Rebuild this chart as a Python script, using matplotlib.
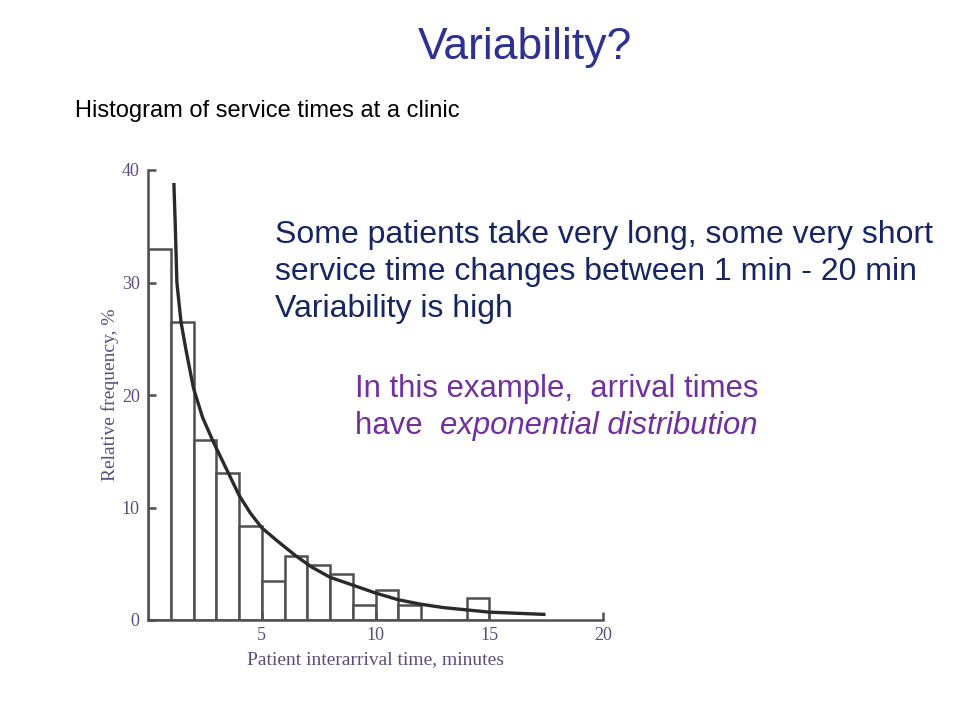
#Histogram of service times slide
import numpy as np
import matplotlib.pyplot as plt

#Data
bin_left = [0, 1, 2, 3, 4, 5, 6, 7, 8, 9, 10, 11, 12, 13, 14]
rel_freq = [33, 26.5, 16, 13.1, 8.4, 3.5, 5.7, 4.9, 4.1, 1.3, 2.7, 1.3, 0, 0, 2.0]
curve_x = [1.14, 1.2, 1.27, 1.45, 1.67, 2.0, 2.4, 2.9, 3.5, 4.0, 4.5, 5.0, 5.7,
           6.5, 7.2, 8.0, 9.0, 10.0, 11.0, 12.0, 13.0, 14.0, 15.0, 16.2, 17.4]
curve_y = [38.7, 35.0, 30.0, 26.5, 24.0, 20.6, 18.0, 15.7, 13.2, 11.1, 9.5, 8.2, 7.0,
           5.7, 4.7, 3.8, 3.1, 2.4, 1.8, 1.4, 1.1, 0.9, 0.7, 0.6, 0.5]
x_ticks = [5, 10, 15, 20]
y_ticks = [0, 10, 20, 30, 40]

title = 'Variability?'
subtitle = 'Histogram of service times at a clinic'
notes = ['Some patients take very long, some very short',
         'service time changes between 1 min - 20 min',
         'Variability is high']

#Colors
blue = '#2e3192'
navy = '#172663'
purple = '#7030a0'
ink = '#505050'
label_col = '#5a4d7a'

plt.rcParams['font.family'] = ['Liberation Sans', 'DejaVu Sans']

fig = plt.figure(figsize=(9.6, 7.2), dpi=100)
fig.patch.set_facecolor('white')

#Histogram axes (the scanned figure)
ax = fig.add_axes([148/960, 100/720, 455/960, 450/720])
ax.bar(bin_left, rel_freq, width=1, align='edge', facecolor='white',
       edgecolor=ink, linewidth=1.8)
ax.plot(curve_x, curve_y, '-', color='#2a2a2a', linewidth=2.4)

ax.set_xlim(0, 20)
ax.set_ylim(0, 40)
ax.spines['top'].set_visible(False)
ax.spines['right'].set_visible(False)
ax.spines['left'].set_color(ink)
ax.spines['bottom'].set_color(ink)
ax.spines['left'].set_linewidth(1.8)
ax.spines['bottom'].set_linewidth(1.8)

serif = ['Liberation Serif', 'DejaVu Serif']
ax.set_xticks(x_ticks)
ax.set_xticklabels([str(v) for v in x_ticks], family=serif, fontsize=13, color=label_col)
ax.set_yticks(y_ticks)
ax.set_yticklabels([str(v) for v in y_ticks], family=serif, fontsize=13, color=label_col)
ax.tick_params(axis='both', direction='in', length=6, width=1.8, color=ink)
ax.tick_params(axis='y', pad=6)
ax.tick_params(axis='x', pad=5)
ax.set_xlabel('Patient interarrival time, minutes', family=serif, fontsize=14,
              color=label_col, labelpad=5)
ax.set_ylabel('Relative frequency, %', family=serif, fontsize=14,
              color=label_col, labelpad=2)

#Slide texts
fig.text(525/960, 1 - 48/720, title, ha='center', va='center', fontsize=32, color=blue)
fig.text(75/960, 1 - 117/720, subtitle, ha='left', va='baseline', fontsize=17, color='black')

for i, line in enumerate(notes):
    fig.text(275/960, 1 - (243 + 37*i)/720, line, ha='left', va='baseline',
             fontsize=23, color=navy)

fig.text(355/960, 1 - 397/720, 'In this example,  arrival times', ha='left',
         va='baseline', fontsize=22.4, color=purple)
t_have = fig.text(355/960, 1 - 434/720, 'have  ', ha='left', va='baseline',
                  fontsize=22.4, color=purple)
fig.canvas.draw()
bb = t_have.get_window_extent()
fig.text(bb.x1/960, 1 - 434/720, 'exponential distribution', ha='left',
         va='baseline', fontsize=22.4, color=purple, style='italic')

fig.savefig('out.png', dpi=100)
